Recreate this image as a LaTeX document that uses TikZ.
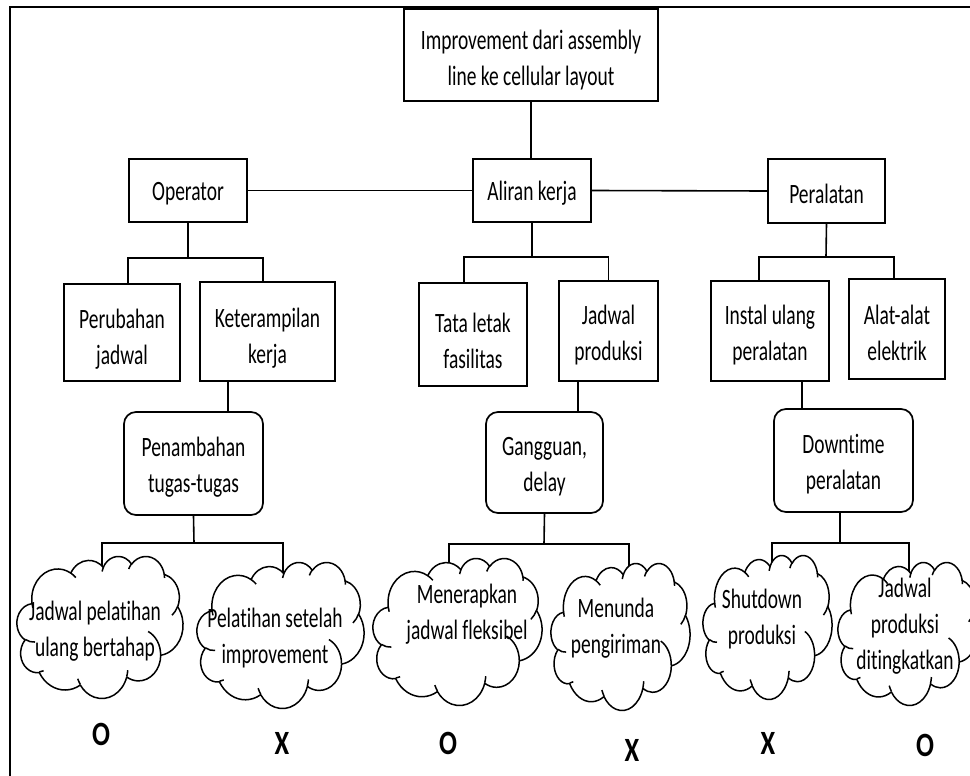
\documentclass[tikz,border=0pt]{standalone}
\usepackage{fontspec}
\newfontfamily\cfont{Carlito}[FakeStretch=0.695, RawFeature={-liga}]
\newfontfamily\mfont{Carlito}[FakeStretch=0.78, RawFeature={-liga}]
\usetikzlibrary{calc}
\pgfdeclarelayer{bg}
\pgfsetlayers{bg,main}

% invisible strut that lowers the text block of a box
\newcommand\dn[1]{\rule{0pt}{#1pt}}

% elliptical arc given by its visual start angle and sweep (cloud outline)
\newcommand\cloudang[4]{%
  \pgfmathsetmacro\tmpa{atan2(#1*sin(#3),#2*cos(#3))}%
  \pgfmathsetmacro\tmpb{atan2(#1*sin(#3+#4),#2*cos(#3+#4))}%
  \pgfmathsetmacro\tmpd{mod(\tmpb-\tmpa+720,360)}%
  \global\let\cas\tmpa \global\let\cad\tmpd}
\newcommand\carc[4]{\pgfextra{\cloudang{#1}{#2}{#3}{#4}} arc[x radius=#1, y radius=#2, start angle=\cas, delta angle=\cad]}

% cloud in the box (x0,y0) of size w x h, drawn in a 432 x 432 grid
\newcommand\wordcloud[4]{%
  \pgfmathsetmacro\cwx{#3/432}\pgfmathsetmacro\cwy{#4/432}%
  \begin{scope}[shift={(#1,#2)}, x=\cwx pt, y=-\cwy pt, cloudline]
    \filldraw[fill=white] (39,143.7)
      \carc{67.53}{91.90}{-190.4875}{123.7805}
      \carc{53.33}{72.67}{-144.1024}{89.9452}
      \carc{43.65}{59.45}{-145.8079}{99.7230}
      \carc{48.57}{65.95}{-130.9861}{117.2417}
      \carc{53.33}{72.73}{-78.7089}{109.0269}
      \carc{67.75}{92.20}{-46.2673}{130.2690}
      \carc{57.85}{78.67}{0.6250}{114.0333}
      \carc{67.52}{92.15}{22.4516}{115.1726}
      \carc{77.20}{105.43}{66.2426}{75.7110}
      \carc{43.60}{59.18}{-274.9421}{146.7356}
      \carc{43.45}{59.45}{-246.8285}{152.5189} -- cycle;
    \draw (46.93,261.77) \carc{43.45}{59.45}{86.7420}{26.4295}
          (69.28,348.99) \carc{43.60}{59.18}{73.6105}{11.4475}
          (164.78,390.90) \carc{67.52}{92.15}{137.6242}{14.0811}
          (288.27,347.51) \carc{67.52}{92.15}{6.4533}{15.9984}
          (341.29,229.54) \carc{57.85}{78.67}{-70.2924}{70.9174}
          (417.98,153.54) \carc{53.33}{72.73}{30.3180}{27.7515}
          (383.24,54.26) \carc{48.57}{65.95}{-13.7443}{14.8589}
          (290.78,39.52) \carc{48.57}{65.95}{-149.1815}{18.1954}
          (221.41,47.20) \carc{43.65}{59.45}{-163.4943}{17.6864}
          (140.00,51.92) \carc{67.53}{91.90}{-66.7070}{12.3194}
          (41.27,157.89) \carc{67.53}{91.90}{157.6544}{11.8582};
  \end{scope}}

\begin{document}
\begin{tikzpicture}[x=1pt, y=-1pt,
  txt/.style={font=\cfont\fontsize{28}{36}\selectfont, align=center, inner sep=0pt},
  box/.style={txt, draw, line width=1.7pt},
  rbox/.style={box, rounded corners=12pt},
  conn/.style={line width=1.6pt},
  cloudline/.style={line width=1.5pt, line join=round},
  evalmark/.style={font=\mfont\bfseries\fontsize{34}{36}\selectfont, inner sep=0pt},
  frame/.style={line width=1.9pt}]
\useasboundingbox (0,0) rectangle (970,776);

% outer frame (left and top edges)
\draw[frame] (10,776) -- (10,7) -- (970,7);

% boxes
\node[box, minimum width=254, minimum height=92] (top) at (531,55) {\dn{30}Improvement dari assembly\\line ke cellular layout};
\node[box, minimum width=118, minimum height=63] (operator) at (188,190.5) {\dn{25}Operator};
\node[box, minimum width=118, minimum height=63] (aliran) at (532,190.5) {\dn{25}Aliran kerja};
\node[box, minimum width=117, minimum height=64] (peralatan) at (826.5,191) {\dn{25}Peralatan};
\node[box, minimum width=116, minimum height=97] (perubahan) at (122,332.5) {\dn{32}Perubahan\\jadwal};
\node[box, minimum width=135, minimum height=99] (keter) at (267.5,331.5) {\dn{32}Keterampilan\\kerja};
\node[box, minimum width=108, minimum height=103] (tata) at (473,334.5) {\dn{32}Tata letak\\fasilitas};
\node[box, minimum width=99, minimum height=100] (jprod) at (608.5,331) {\dn{28}Jadwal\\produksi};
\node[box, minimum width=118, minimum height=100] (instal) at (770,331) {\dn{28}Instal ulang\\peralatan};
\node[box, minimum width=96, minimum height=100] (alat) at (897,329) {\dn{28}Alat-alat\\elektrik};
\node[rbox, minimum width=139, minimum height=103] (tambah) at (193.5,463.5) {\dn{26}Penambahan\\tugas-tugas};
\node[rbox, minimum width=117, minimum height=101] (ganggu) at (544.5,462.5) {\dn{26}Gangguan,\\delay};
\node[rbox, minimum width=139, minimum height=103] (down) at (843.5,460.5) {\dn{26}Downtime\\peralatan};

% clouds
\wordcloud{17}{556}{166}{142}
\wordcloud{197}{562}{167}{146}
\wordcloud{373}{558}{169}{147}
\wordcloud{551}{563}{139}{147}
\wordcloud{703}{555}{129}{144}
\wordcloud{838}{562}{140}{143}

\node[txt] (c1) at (95,631) {Jadwal pelatihan\\ulang bertahap};
\node[txt] (c2) at (275,638) {Pelatihan setelah\\improvement};
\node[txt] (c3) at (467,614.5) {Menerapkan\\jadwal fleksibel};
\node[txt] (c4) at (616,628.5) {Menunda\\pengiriman};
\node[txt] (c5) at (762,619.5) {Shutdown\\produksi};
\node[txt] (c6) at (905,626.5) {Jadwal\\produksi\\ditingkatkan};

% evaluation marks
\node[evalmark] (m1) at (101,734) {O};
\node[evalmark] (m2) at (282,743) {X};
\node[evalmark] (m3) at (448,743) {O};
\node[evalmark] (m4) at (632,750) {X};
\node[evalmark] (m5) at (768,743) {X};
\node[evalmark] (m6) at (925,745) {O};

% junction points of the tree
\coordinate (j1) at (188,258);
\coordinate (j2) at (532,257);
\coordinate (j3) at (826,257);
\coordinate (k1) at (228,400);
\coordinate (k2) at (578,400);
\coordinate (k3) at (802,400);
\coordinate (j4) at (194,543);
\coordinate (d1) at (102,543);
\coordinate (d2) at (283,543);
\coordinate (j5) at (544,544);
\coordinate (d3) at (449,544);
\coordinate (d4) at (629,544);
\coordinate (j6) at (840,543);
\coordinate (d5) at (772,543);
\coordinate (d6) at (909,543);

\begin{pgfonlayer}{bg}
\draw[conn] (top.south) -- (top.south |- aliran.north);
\draw[conn] (operator.east) -- (aliran.west);
\draw[conn] (aliran.east) -- (peralatan.west);

\draw[conn] (operator.south) -- (j1);
\draw[conn] ($(perubahan.north)+(6,0)$) |- (j1) -| ($(keter.north)+(-4.5,0)$);
\draw[conn] (aliran.south) -- (j2);
\draw[conn] ($(tata.north)+(-9,0)$) |- (j2) -| (jprod.north);
\draw[conn] (peralatan.south) -- (j3);
\draw[conn] ($(instal.north)+(-11,0)$) |- (j3) -| ($(alat.north)+(-3,0)$);

\draw[conn] (k1 |- keter.south) -- (k1 |- tambah.north);
\draw[conn] (k2 |- jprod.south) -- (k2 |- ganggu.north);
\draw[conn] (k3 |- instal.south) -- (k3 |- down.north);

\draw[conn] (tambah.south) -- (j4);
\draw[conn] (d1 |- c1.center) -- (d1) -- (d2) -- (d2 |- c2.center);
\draw[conn] (ganggu.south) -- (j5);
\draw[conn] (d3 |- c3.center) -- (d3) -- (d4) -- (d4 |- c4.center);
\draw[conn] (j6 |- down.south) -- (j6);
\draw[conn] (d5 |- c5.center) -- (d5) -- (d6) -- (d6 |- c6.center);
\end{pgfonlayer}
\end{tikzpicture}
\end{document}
